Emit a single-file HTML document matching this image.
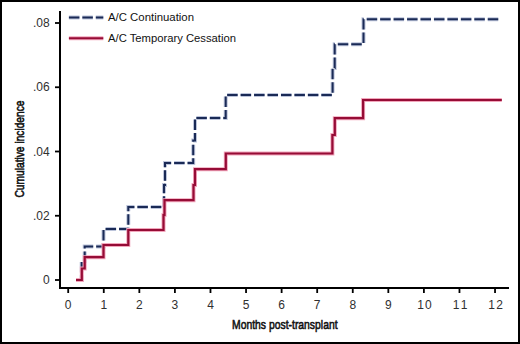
<!DOCTYPE html>
<html><head><meta charset="utf-8"><style>
html,body{margin:0;padding:0;background:#fff;}
#w{position:relative;width:516px;height:340px;border:2px solid #000;overflow:hidden;background:#fff;}
svg{position:absolute;left:-2px;top:-2px;}
.t{font-family:"Liberation Sans",sans-serif;font-size:12px;fill:#303030;}
.lg{font-family:"Liberation Sans",sans-serif;font-size:11.7px;fill:#111;}
.ti{font-family:"Liberation Sans",sans-serif;font-size:13.6px;font-weight:normal;fill:#111;stroke:#111;stroke-width:0.6px;}
</style></head><body><div id="w">
<svg width="520" height="344" viewBox="0 0 520 344">
<line x1="60" y1="11" x2="60" y2="289" stroke="#000" stroke-width="2"/>
<line x1="59" y1="288" x2="509" y2="288" stroke="#000" stroke-width="2"/>
<line x1="55" y1="280.00" x2="59" y2="280.00" stroke="#000" stroke-width="1.8"/>
<text x="49.6" y="284.10" text-anchor="end" class="t">0</text>
<line x1="55" y1="215.75" x2="59" y2="215.75" stroke="#000" stroke-width="1.8"/>
<text x="49.6" y="219.85" text-anchor="end" class="t">.02</text>
<line x1="55" y1="151.50" x2="59" y2="151.50" stroke="#000" stroke-width="1.8"/>
<text x="49.6" y="155.60" text-anchor="end" class="t">.04</text>
<line x1="55" y1="87.25" x2="59" y2="87.25" stroke="#000" stroke-width="1.8"/>
<text x="49.6" y="91.35" text-anchor="end" class="t">.06</text>
<line x1="55" y1="23.00" x2="59" y2="23.00" stroke="#000" stroke-width="1.8"/>
<text x="49.6" y="27.10" text-anchor="end" class="t">.08</text>
<line x1="68.20" y1="289" x2="68.20" y2="293" stroke="#000" stroke-width="1.8"/>
<text x="68.20" y="308.6" text-anchor="middle" class="t">0</text>
<line x1="103.77" y1="289" x2="103.77" y2="293" stroke="#000" stroke-width="1.8"/>
<text x="103.77" y="308.6" text-anchor="middle" class="t">1</text>
<line x1="139.34" y1="289" x2="139.34" y2="293" stroke="#000" stroke-width="1.8"/>
<text x="139.34" y="308.6" text-anchor="middle" class="t">2</text>
<line x1="174.91" y1="289" x2="174.91" y2="293" stroke="#000" stroke-width="1.8"/>
<text x="174.91" y="308.6" text-anchor="middle" class="t">3</text>
<line x1="210.48" y1="289" x2="210.48" y2="293" stroke="#000" stroke-width="1.8"/>
<text x="210.48" y="308.6" text-anchor="middle" class="t">4</text>
<line x1="246.05" y1="289" x2="246.05" y2="293" stroke="#000" stroke-width="1.8"/>
<text x="246.05" y="308.6" text-anchor="middle" class="t">5</text>
<line x1="281.62" y1="289" x2="281.62" y2="293" stroke="#000" stroke-width="1.8"/>
<text x="281.62" y="308.6" text-anchor="middle" class="t">6</text>
<line x1="317.19" y1="289" x2="317.19" y2="293" stroke="#000" stroke-width="1.8"/>
<text x="317.19" y="308.6" text-anchor="middle" class="t">7</text>
<line x1="352.76" y1="289" x2="352.76" y2="293" stroke="#000" stroke-width="1.8"/>
<text x="352.76" y="308.6" text-anchor="middle" class="t">8</text>
<line x1="388.33" y1="289" x2="388.33" y2="293" stroke="#000" stroke-width="1.8"/>
<text x="388.33" y="308.6" text-anchor="middle" class="t">9</text>
<line x1="423.90" y1="289" x2="423.90" y2="293" stroke="#000" stroke-width="1.8"/>
<text x="424.50" y="308.6" text-anchor="middle" class="t" textLength="14.6" lengthAdjust="spacing">10</text>
<line x1="459.47" y1="289" x2="459.47" y2="293" stroke="#000" stroke-width="1.8"/>
<text x="460.07" y="308.6" text-anchor="middle" class="t" textLength="14.6" lengthAdjust="spacing">11</text>
<line x1="495.04" y1="289" x2="495.04" y2="293" stroke="#000" stroke-width="1.8"/>
<text x="495.64" y="308.6" text-anchor="middle" class="t" textLength="14.6" lengthAdjust="spacing">12</text>
<text transform="translate(284.8,329.4)" x="0" y="0" text-anchor="middle" class="ti" textLength="105.5" lengthAdjust="spacingAndGlyphs">Months post-transplant</text>
<text transform="translate(23.6,149) rotate(-90)" x="0" y="0" text-anchor="middle" class="ti" textLength="97" lengthAdjust="spacingAndGlyphs">Cumulative incidence</text>
<polyline points="76,280 81.7,280 81.7,261 84.7,261 84.7,246.5 103.5,246.5 103.5,229 128.3,229 128.3,207 164,207 164,185 165,185 165,163 193.2,163 193.2,140.5 195,140.5 195,118 225.7,118 225.7,95 332.6,95 332.6,68 334.7,68 334.7,44.2 363.5,44.2 363.5,19.3 500.2,19.3" fill="none" stroke="#bcc4da" stroke-width="4" stroke-dasharray="10.5 2.952" stroke-dashoffset="0.136" stroke-linejoin="miter" stroke-linecap="butt"/>
<polyline points="76,280 81.7,280 81.7,261 84.7,261 84.7,246.5 103.5,246.5 103.5,229 128.3,229 128.3,207 164,207 164,185 165,185 165,163 193.2,163 193.2,140.5 195,140.5 195,118 225.7,118 225.7,95 332.6,95 332.6,68 334.7,68 334.7,44.2 363.5,44.2 363.5,19.3 500.2,19.3" fill="none" stroke="#1a2a56" stroke-width="2" stroke-dasharray="10.5 2.952" stroke-dashoffset="0.136" stroke-linejoin="miter" stroke-linecap="butt"/>
<polyline points="76,280 81.8,280 81.8,268.5 84.7,268.5 84.7,257.2 103.5,257.2 103.5,245 128.3,245 128.3,230 163.5,230 163.5,215 164.5,215 164.5,200.2 193.5,200.2 193.5,185 195,185 195,169.2 225.8,169.2 225.8,153.5 332.4,153.5 332.4,135 334.8,135 334.8,118.2 363.1,118.2 363.1,100 501.8,100" fill="none" stroke="#f2a6bc" stroke-width="4" stroke-linejoin="miter" stroke-linecap="butt"/>
<polyline points="76,280 81.8,280 81.8,268.5 84.7,268.5 84.7,257.2 103.5,257.2 103.5,245 128.3,245 128.3,230 163.5,230 163.5,215 164.5,215 164.5,200.2 193.5,200.2 193.5,185 195,185 195,169.2 225.8,169.2 225.8,153.5 332.4,153.5 332.4,135 334.8,135 334.8,118.2 363.1,118.2 363.1,100 501.8,100" fill="none" stroke="#960c36" stroke-width="2.2" stroke-linejoin="miter" stroke-linecap="butt"/>
<line x1="68.9" y1="17.5" x2="103.3" y2="17.5" stroke="#bcc4da" stroke-width="4" stroke-dasharray="10.5 2.952"/>
<line x1="68.9" y1="17.5" x2="103.3" y2="17.5" stroke="#1a2a56" stroke-width="2" stroke-dasharray="10.5 2.952"/>
<line x1="68.9" y1="38.3" x2="103.3" y2="38.3" stroke="#f2a6bc" stroke-width="4"/>
<line x1="68.9" y1="38.3" x2="103.3" y2="38.3" stroke="#960c36" stroke-width="2"/>
<text x="108" y="20.7" class="lg" textLength="86" lengthAdjust="spacingAndGlyphs">A/C Continuation</text>
<text x="108" y="41.8" class="lg" textLength="128" lengthAdjust="spacingAndGlyphs">A/C Temporary Cessation</text>
</svg></div></body></html>
